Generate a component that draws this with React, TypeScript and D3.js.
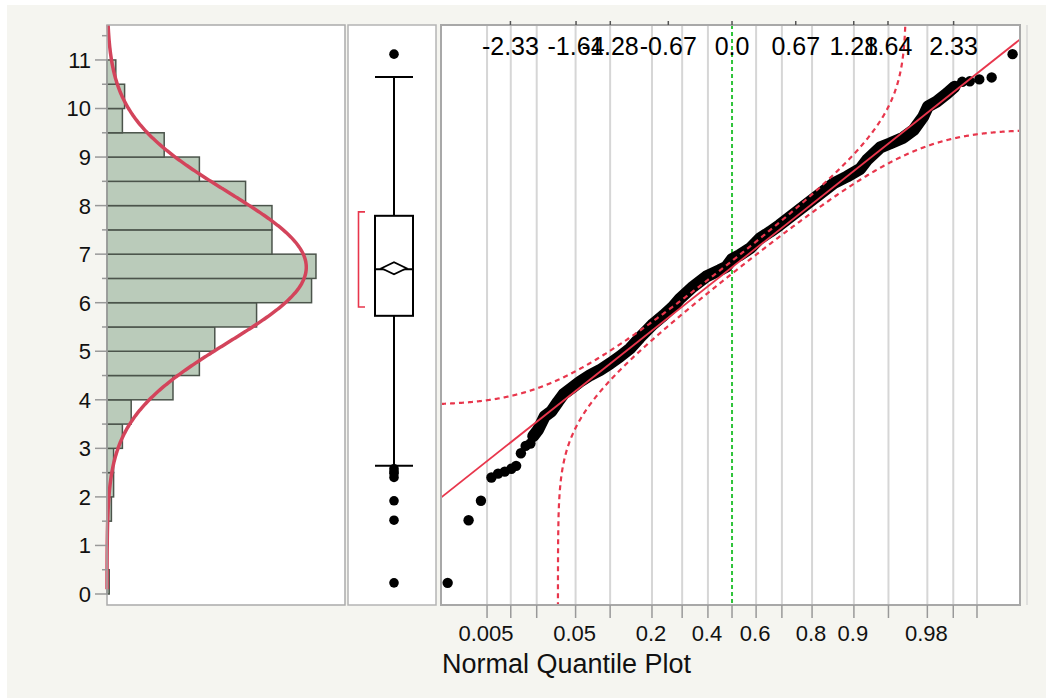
import * as d3 from 'd3';

// histogram bins (lower edge, count per 0.5 bin)
const binStarts = [0, 0.5, 1, 1.5, 2, 2.5, 3, 3.5, 4, 4.5, 5, 5.5, 6, 6.5, 7, 7.5, 8, 8.5, 9, 9.5, 10, 10.5];
const binCounts = [1, 0, 0, 2, 3, 3, 7, 11, 30, 42, 49, 68, 93, 95, 75, 75, 63, 42, 26, 7, 8, 4];
const binWidth = 0.5;

// fitted normal
const fitMean = 6.73;
const fitSd = 1.55;

// outlier box plot
const boxQuartiles = [5.73, 6.69, 7.79]; // q1, median, q3
const boxWhiskers = [2.64, 10.65];
const meanDiamond = [6.71, 0.125]; // mean, half CI
const shortestHalf = [5.91, 7.87];

// normal quantile plot: [normal quantile, value]
const lowTail: [number, number][] = [
  [-2.99, 0.23], [-2.77, 1.52], [-2.64, 1.92], [-2.53, 2.40], [-2.46, 2.48], [-2.39, 2.52],
  [-2.32, 2.58], [-2.27, 2.64], [-2.22, 2.90], [-2.17, 3.05], [-2.12, 3.10],
];
const bodyPoints: [number, number][] = [
  [-2.09, 3.25], [-2.04, 3.38], [-1.97, 3.66], [-1.90, 3.76], [-1.83, 3.96], [-1.77, 4.12],
  [-1.68, 4.25], [-1.60, 4.37], [-1.49, 4.51], [-1.39, 4.61], [-1.28, 4.75], [-1.18, 4.89],
  [-1.07, 5.06], [-0.97, 5.28], [-0.90, 5.42], [-0.83, 5.56], [-0.72, 5.74], [-0.62, 5.92],
  [-0.55, 6.08], [-0.41, 6.33], [-0.27, 6.54], [-0.13, 6.67], [-0.06, 6.74], [0.0, 6.90],
  [0.08, 6.98], [0.19, 7.12], [0.29, 7.32], [0.40, 7.46], [0.50, 7.60], [0.64, 7.81],
  [0.79, 8.04], [0.93, 8.25], [1.07, 8.46], [1.21, 8.60], [1.35, 8.76], [1.42, 8.94],
  [1.56, 9.20], [1.66, 9.28], [1.80, 9.40], [1.91, 9.56], [2.01, 9.83], [2.06, 10.04],
  [2.15, 10.14], [2.26, 10.31], [2.34, 10.45],
];
const highTail: [number, number][] = [
  [2.42, 10.55], [2.50, 10.56], [2.60, 10.60], [2.73, 10.64], [2.95, 11.12],
];
const bandWidthP = 0.0336;

const yTicks = [0, 1, 2, 3, 4, 5, 6, 7, 8, 9, 10, 11];
const yMinorTicks = [0.5, 1.5, 2.5, 3.5, 4.5, 5.5, 6.5, 7.5, 8.5, 9.5, 10.5, 11.5];
const probTicks = [0.005, 0.01, 0.02, 0.05, 0.1, 0.2, 0.3, 0.4, 0.5, 0.6, 0.7, 0.8, 0.9, 0.95, 0.98, 0.99, 0.995];
const probLabels = ['0.005', '0.05', '0.2', '0.4', '0.6', '0.8', '0.9', '0.98'];
const quantileLabels = ['-2.33', '-1.64', '-1.28', '-0.67', '0.0', '0.67', '1.28', '1.64', '2.33'];

function probit(p: number) {
  const a = [-39.69683028665376, 220.9460984245205, -275.9285104469687, 138.357751867269, -30.66479806614716, 2.506628277459239];
  const b = [-54.47609879822406, 161.5858368580409, -155.6989798598866, 66.80131188771972, -13.28068155288572];
  const c = [-0.007784894002430293, -0.3223964580411365, -2.400758277161838, -2.549732539343734, 4.374664141464968, 2.938163982698783];
  const d = [0.007784695709041462, 0.3224671290700398, 2.445134137142996, 3.754408661907416];
  const pl = 0.02425;
  if (p < pl) {
    const q = Math.sqrt(-2 * Math.log(p));
    return (((((c[0] * q + c[1]) * q + c[2]) * q + c[3]) * q + c[4]) * q + c[5]) / ((((d[0] * q + d[1]) * q + d[2]) * q + d[3]) * q + 1);
  }
  if (p <= 1 - pl) {
    const q = p - 0.5, r = q * q;
    return (((((a[0] * r + a[1]) * r + a[2]) * r + a[3]) * r + a[4]) * r + a[5]) * q / (((((b[0] * r + b[1]) * r + b[2]) * r + b[3]) * r + b[4]) * r + 1);
  }
  const q = Math.sqrt(-2 * Math.log(1 - p));
  return -(((((c[0] * q + c[1]) * q + c[2]) * q + c[3]) * q + c[4]) * q + c[5]) / ((((d[0] * q + d[1]) * q + d[2]) * q + d[3]) * q + 1);
}

function normCdf(z: number) {
  const t = 1 / (1 + 0.2316419 * Math.abs(z));
  const dd = 0.3989423 * Math.exp(-z * z / 2);
  const p = dd * t * (0.3193815 + t * (-0.3565638 + t * (1.781478 + t * (-1.821256 + t * 1.330274))));
  return z > 0 ? 1 - p : p;
}

const FONT = '"Liberation Sans", Arial, Helvetica, sans-serif';
const RED = '#e8364c';

export default function App() {
  const width = 1046;
  const height = 698;
  const top = 25, bottom = 605;
  const hist = { l: 107, r: 345 };
  const box = { l: 348, r: 436 };
  const qq = { l: 441, r: 1020 };

  const y = d3.scaleLinear().domain([-0.2266, 11.72]).range([bottom, top]);
  const xCount = d3.scaleLinear().domain([0, 108.2]).range([hist.l, hist.r]);
  const xz = d3.scaleLinear().domain([-3.06, 3.028]).range([qq.l, qq.r]);

  const total = d3.sum(binCounts);
  const dens = (v: number) => total * binWidth * Math.exp(-0.5 * ((v - fitMean) / fitSd) ** 2) / (fitSd * Math.sqrt(2 * Math.PI));
  const curveVals = d3.range(11.72, 0.08, -0.02);
  const curvePath = d3.line<number>().x(v => xCount(dens(v))).y(v => y(v)).curve(d3.curveBasis)(curveVals) || '';

  const bx = 394, bhw = 19;
  const [q1, med, q3] = boxQuartiles;
  const [wLo, wHi] = boxWhiskers;
  const [mn, mci] = meanDiamond;
  const allPts = [...lowTail, ...bodyPoints, ...highTail];
  const outliers = allPts.filter(p => p[1] < wLo || p[1] > wHi);

  const ptLine = d3.line<[number, number]>().x(d => xz(d[0])).y(d => y(d[1]));
  const bodyPath = ptLine(bodyPoints) || '';

  // confidence bands, sampled finely near their vertical asymptotes
  const zAsym = probit(bandWidthP);
  const nearSteps = [1e-7, 3e-7, 1e-6, 3e-6, 1e-5, 3e-5, 1e-4, 3e-4, 1e-3, 2e-3];
  const zBase = d3.range(-3.06, 3.03, 0.004);
  const zLower = [...zBase, ...nearSteps.map(s => zAsym + s)].sort((a, b) => a - b);
  const zUpper = [...zBase, ...nearSteps.map(s => -zAsym - s)].sort((a, b) => a - b);
  const bandLine = d3.line<[number, number]>()
    .defined(d => isFinite(d[1]))
    .x(d => xz(d[0]))
    .y(d => y(d[1]));
  const upperPts: [number, number][] = zUpper.map(z => {
    const p = normCdf(z) + bandWidthP;
    return [z, p < 1 ? fitMean + fitSd * probit(p) : NaN];
  });
  const lowerPts: [number, number][] = zLower.map(z => {
    const p = normCdf(z) - bandWidthP;
    return [z, p > 0 ? fitMean + fitSd * probit(p) : NaN];
  });

  const quantileVals = quantileLabels.map(Number);

  return (
    <div style={{ position: 'absolute', left: 0, top: 0 }}>
      <svg width={width} height={height} style={{ display: 'block', fontFamily: FONT }}>
        <defs>
          <clipPath id="qqclip">
            <rect x={qq.l} y={top} width={qq.r - qq.l} height={bottom - top} />
          </clipPath>
          <clipPath id="histclip">
            <rect x={hist.l - 4} y={top} width={hist.r - hist.l + 4} height={bottom - top} />
          </clipPath>
        </defs>
        <rect x={0} y={0} width={width} height={height} fill="#ffffff" />
        <rect x={7} y={5} width={width - 7} height={height - 5} fill="#f5f5f0" />

        {/* histogram panel */}
        <rect x={hist.l} y={top} width={hist.r - hist.l} height={bottom - top} fill="#fff" />
        {binStarts.map((s, i) => binCounts[i] > 0 && (
          <rect key={i} x={xCount(0)} y={y(s + binWidth)} width={xCount(binCounts[i]) - xCount(0)}
            height={y(s) - y(s + binWidth)} fill="#bacbba" stroke="#4b544b" strokeWidth={1.5} />
        ))}
        <path d={curvePath} fill="none" stroke="#d3445b" strokeWidth={3.5} clipPath="url(#histclip)" />
        <rect x={hist.l} y={top} width={hist.r - hist.l} height={bottom - top} fill="none" stroke="#aaa" strokeWidth={1.5} />
        {yTicks.map(t => (
          <g key={t}>
            <line x1={95} x2={hist.l} y1={y(t)} y2={y(t)} stroke="#999" strokeWidth={1.5} />
            <text x={91} y={y(t)} dy="0.36em" textAnchor="end" fontSize={22} fill="#111">{t}</text>
          </g>
        ))}
        {yMinorTicks.map(t => (
          <line key={t} x1={102} x2={hist.l} y1={y(t)} y2={y(t)} stroke="#999" strokeWidth={1.5} />
        ))}

        {/* box plot panel */}
        <rect x={box.l} y={top} width={box.r - box.l} height={bottom - top} fill="#fff" stroke="#b4b4b4" strokeWidth={1.5} />
        <line x1={bx} x2={bx} y1={y(wLo)} y2={y(q1)} stroke="#000" strokeWidth={2} />
        <line x1={bx} x2={bx} y1={y(q3)} y2={y(wHi)} stroke="#000" strokeWidth={2} />
        <line x1={bx - bhw} x2={bx + bhw} y1={y(wLo)} y2={y(wLo)} stroke="#000" strokeWidth={2} />
        <line x1={bx - bhw} x2={bx + bhw} y1={y(wHi)} y2={y(wHi)} stroke="#000" strokeWidth={2} />
        <rect x={bx - bhw} y={y(q3)} width={bhw * 2} height={y(q1) - y(q3)} fill="#fff" stroke="#000" strokeWidth={2} />
        <line x1={bx - bhw} x2={bx + bhw} y1={y(med)} y2={y(med)} stroke="#000" strokeWidth={2} />
        <path d={`M${bx - 12.5},${y(mn)}L${bx},${y(mn + mci)}L${bx + 12.5},${y(mn)}L${bx},${y(mn - mci)}Z`}
          fill="#fff" stroke="#000" strokeWidth={1.8} />
        <path d={`M365,${y(shortestHalf[1])}H358.5V${y(shortestHalf[0])}H365`} fill="none" stroke={RED} strokeWidth={1.6} />
        {outliers.map((p, i) => (
          <circle key={i} cx={bx} cy={y(p[1])} r={4.8} fill="#000" />
        ))}

        {/* normal quantile plot panel */}
        <rect x={qq.l} y={top} width={qq.r - qq.l} height={bottom - top} fill="#fff" />
        <g clipPath="url(#qqclip)">
          {probTicks.filter(p => p !== 0.5).map(p => (
            <line key={p} x1={xz(probit(p))} x2={xz(probit(p))} y1={top} y2={bottom} stroke="#d6d6d6" strokeWidth={2} />
          ))}
          <line x1={xz(0)} x2={xz(0)} y1={top} y2={bottom} stroke="#2fc43a" strokeWidth={2} strokeDasharray="4,3" />
          <path d={bodyPath} fill="none" stroke="#000" strokeWidth={12} strokeLinecap="round" strokeLinejoin="round" />
          {allPts.map((p, i) => (
            <circle key={i} cx={xz(p[0])} cy={y(p[1])} r={5.2} fill="#000" />
          ))}
          <line x1={xz(-3.06)} x2={xz(3.028)} y1={y(fitMean + fitSd * -3.06)} y2={y(fitMean + fitSd * 3.028)}
            stroke={RED} strokeWidth={1.8} />
          <path d={bandLine(upperPts) || ''} fill="none" stroke={RED} strokeWidth={2.2} strokeDasharray="5,4" />
          <path d={bandLine(lowerPts) || ''} fill="none" stroke={RED} strokeWidth={2.2} strokeDasharray="5,4" />
        </g>
        <rect x={qq.l} y={top} width={qq.r - qq.l} height={bottom - top} fill="none" stroke="#a8a8a8" strokeWidth={2} />
        <line x1={1027} x2={1027} y1={top} y2={bottom} stroke="#d8d8d8" strokeWidth={1.5} />
        {quantileVals.map((q, i) => (
          <g key={i}>
            <line x1={xz(q)} x2={xz(q)} y1={top - 4} y2={top} stroke="#555" strokeWidth={1.5} />
            <text x={xz(q)} y={55} textAnchor="middle" fontSize={25} fill="#000">{quantileLabels[i]}</text>
          </g>
        ))}
        {probTicks.map(p => (
          <line key={p} x1={xz(probit(p))} x2={xz(probit(p))} y1={bottom} y2={bottom + 13} stroke="#999" strokeWidth={1.5} />
        ))}
        {probLabels.map(l => (
          <text key={l} x={xz(probit(Number(l))) - 1} y={641} textAnchor="middle" fontSize={22} fill="#111">{l}</text>
        ))}
        <text x={442} y={673} fontSize={27} fill="#111">Normal Quantile Plot</text>
      </svg>
    </div>
  );
}
